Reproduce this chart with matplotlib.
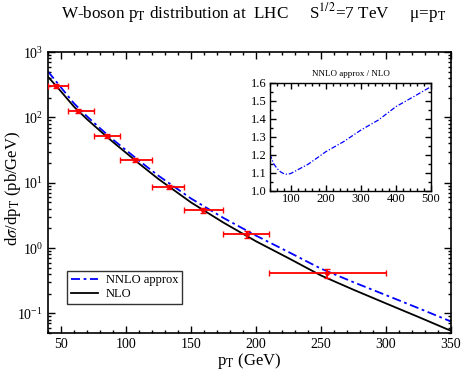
import numpy as np
import matplotlib
matplotlib.use('Agg')
import matplotlib.pyplot as plt
from matplotlib.ticker import MultipleLocator, LogLocator, NullFormatter

plt.rcParams['font.family'] = ['Liberation Serif', 'DejaVu Serif']
plt.rcParams['mathtext.fontset'] = 'stix'

# --- data ---
pt = [40, 50, 60, 70, 80, 90, 100, 110, 125, 150, 175, 200, 225, 250, 275, 300, 325, 350]
nlo = [420, 250, 146, 94, 62.5, 42, 28.8, 19.7, 11.4, 5.0, 2.45, 1.27, 0.70, 0.38, 0.23, 0.142, 0.088, 0.054]
nnlo = [506, 288, 164, 104, 68.4, 45.8, 31.6, 21.8, 12.8, 5.74, 2.89, 1.55, 0.87, 0.483, 0.30, 0.19, 0.12, 0.075]

# data points (bins)
data_x = [46, 63, 85, 107, 133, 159, 193, 255]
data_xlo = [40, 55, 75, 95, 120, 145, 175, 210]
data_xhi = [55, 75, 95, 120, 145, 175, 210, 300]
data_y = [300, 125, 51.6, 22.3, 8.7, 3.8, 1.62, 0.41]
data_yerr = [20, 8, 3.5, 1.5, 0.7, 0.35, 0.18, 0.06]

# inset ratio
ratio_pt = [40, 50, 60, 70, 80, 90, 100, 150, 200, 250, 300, 350, 400, 450, 500]
ratio = [1.204, 1.152, 1.124, 1.105, 1.094, 1.091, 1.096, 1.148, 1.217, 1.272, 1.337, 1.393, 1.467, 1.522, 1.578]

fig = plt.figure(figsize=(4.63, 3.70), dpi=100)
ax = fig.add_axes([0.1037, 0.1, 0.8703, 0.759])

ax.plot(pt, nnlo, color='#0000ff', lw=1.3, ls=(0, (5, 2, 1.5, 2)), label='NNLO approx')
ax.plot(pt, nlo, color='black', lw=1.3, label='NLO')

xerr = [np.array(data_x) - np.array(data_xlo), np.array(data_xhi) - np.array(data_x)]
ax.errorbar(data_x, data_y, xerr=xerr, yerr=data_yerr, fmt='o', color='#ff0000',
            ms=2.5, lw=1.3, capsize=2, capthick=1.0, zorder=3)

ax.set_yscale('log')
ax.set_xlim(40, 350)
ax.set_ylim(0.05, 1000)
ax.xaxis.set_major_locator(MultipleLocator(50))
ax.xaxis.set_minor_locator(MultipleLocator(10))
ax.yaxis.set_major_locator(LogLocator(base=10, numticks=10))
ax.yaxis.set_minor_locator(LogLocator(base=10, subs=np.arange(2, 10), numticks=20))
ax.yaxis.set_minor_formatter(NullFormatter())
ax.tick_params(which='both', direction='in', top=True, right=True, labelsize=10)
ax.tick_params(which='major', length=5, width=1)
ax.tick_params(which='minor', length=2.5, width=1)
for s in ax.spines.values():
    s.set_linewidth(1.2)

ax.set_xlabel(r'p$_\mathrm{T}$ (GeV)', fontsize=12, labelpad=0)
ax.set_ylabel(r'd$\sigma$/dp$_\mathrm{T}$ (pb/GeV)', fontsize=12)
ax.yaxis.set_label_coords(-0.062, 0.514)

leg = ax.legend(loc='lower left', bbox_to_anchor=(0.047, 0.103), fontsize=9, frameon=True,
                fancybox=False, edgecolor='black', handlelength=2.2, borderpad=0.3,
                labelspacing=0.15, handletextpad=0.6, borderaxespad=0)
leg.get_frame().set_linewidth(1.0)

fig.text(0.547, 0.965, 'W-boson p$_\\mathrm{T}$ distribution at  LHC     S$^{1/2}$=7 TeV     μ=p$_\\mathrm{T}$',
         ha='center', va='center', fontsize=12.3)

# inset
ins = fig.add_axes([0.583, 0.4846, 0.348, 0.292])
ins.plot(ratio_pt, ratio, color='#0000ff', lw=0.9, ls=(0, (4, 1.5, 1, 1.5)))
ins.set_xlim(40, 500)
ins.set_ylim(1, 1.6)
ins.xaxis.set_major_locator(MultipleLocator(100))
ins.xaxis.set_minor_locator(MultipleLocator(20))
ins.yaxis.set_major_locator(MultipleLocator(0.1))
ins.yaxis.set_minor_locator(MultipleLocator(0.05))
ins.tick_params(which='both', direction='in', top=True, right=True, labelsize=9, pad=2)
ins.tick_params(which='major', length=4, width=1)
ins.tick_params(which='minor', length=2, width=1)
for s in ins.spines.values():
    s.set_linewidth(1.0)
ins.set_title('NNLO approx / NLO', fontsize=6.5, pad=5)

fig.savefig('out.png', dpi=100)
